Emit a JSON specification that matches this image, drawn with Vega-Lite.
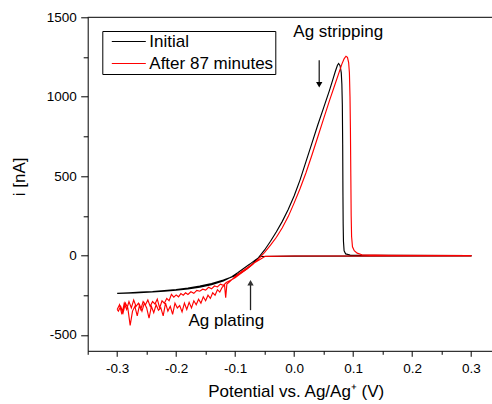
{
  "$schema": "https://vega.github.io/schema/vega-lite/v6.json",
  "width": 404.3,
  "height": 333.5,
  "autosize": {"type": "none"},
  "padding": {"left": 87.7, "top": 17.3, "right": 0, "bottom": 53.2},
  "background": "white",
  "config": {
    "view": {"stroke": null},
    "font": "Liberation Sans",
    "axis": {"grid": false, "domainColor": "black", "tickColor": "black", "labelColor": "black", "titleColor": "black", "labelFontSize": 13.5, "titleFontSize": 17, "titleFontWeight": "normal", "labelFont": "Liberation Sans", "titleFont": "Liberation Sans", "domainWidth": 1, "tickWidth": 1}
  },
  "datasets": {
    "curves": [
      {"s":"Initial","k":1,"v":-0.30,"i":-238},{"s":"Initial","k":2,"v":-0.28,"i":-235},{"s":"Initial","k":3,"v":-0.26,"i":-231},{"s":"Initial","k":4,"v":-0.24,"i":-227},{"s":"Initial","k":5,"v":-0.22,"i":-221},{"s":"Initial","k":6,"v":-0.20,"i":-214},{"s":"Initial","k":7,"v":-0.18,"i":-205},{"s":"Initial","k":8,"v":-0.16,"i":-193},{"s":"Initial","k":9,"v":-0.14,"i":-176},{"s":"Initial","k":10,"v":-0.12,"i":-155},{"s":"Initial","k":11,"v":-0.10,"i":-128},{"s":"Initial","k":12,"v":-0.09,"i":-108},{"s":"Initial","k":13,"v":-0.08,"i":-84},{"s":"Initial","k":14,"v":-0.07,"i":-52},{"s":"Initial","k":15,"v":-0.06,"i":-12},{"s":"Initial","k":16,"v":-0.05,"i":35},{"s":"Initial","k":17,"v":-0.04,"i":90},{"s":"Initial","k":18,"v":-0.03,"i":150},{"s":"Initial","k":19,"v":-0.02,"i":215},{"s":"Initial","k":20,"v":-0.01,"i":290},{"s":"Initial","k":21,"v":0.0,"i":375},{"s":"Initial","k":22,"v":0.01,"i":475},{"s":"Initial","k":23,"v":0.02,"i":590},{"s":"Initial","k":24,"v":0.03,"i":705},{"s":"Initial","k":25,"v":0.04,"i":820},{"s":"Initial","k":26,"v":0.05,"i":930},{"s":"Initial","k":27,"v":0.06,"i":1040},{"s":"Initial","k":28,"v":0.065,"i":1100},{"s":"Initial","k":29,"v":0.07,"i":1160},{"s":"Initial","k":30,"v":0.0735,"i":1198},{"s":"Initial","k":31,"v":0.0755,"i":1209},{"s":"Initial","k":32,"v":0.078,"i":1195},{"s":"Initial","k":33,"v":0.080,"i":1150},{"s":"Initial","k":34,"v":0.081,"i":1080},{"s":"Initial","k":35,"v":0.0818,"i":950},{"s":"Initial","k":36,"v":0.0824,"i":700},{"s":"Initial","k":37,"v":0.0828,"i":400},{"s":"Initial","k":38,"v":0.0832,"i":200},{"s":"Initial","k":39,"v":0.0837,"i":90},{"s":"Initial","k":40,"v":0.0848,"i":30},{"s":"Initial","k":41,"v":0.0875,"i":10},{"s":"Initial","k":42,"v":0.095,"i":3},{"s":"Initial","k":43,"v":0.15,"i":1},{"s":"Initial","k":44,"v":0.30,"i":0},{"s":"Initial","k":45,"v":0.30,"i":-2},{"s":"Initial","k":46,"v":0.0,"i":-4},{"s":"Initial","k":47,"v":-0.057,"i":-6},{"s":"Initial","k":48,"v":-0.065,"i":-26},{"s":"Initial","k":49,"v":-0.075,"i":-54},{"s":"Initial","k":50,"v":-0.085,"i":-80},{"s":"Initial","k":51,"v":-0.095,"i":-107},{"s":"Initial","k":52,"v":-0.105,"i":-132},{"s":"Initial","k":53,"v":-0.12,"i":-160},{"s":"Initial","k":54,"v":-0.14,"i":-183},{"s":"Initial","k":55,"v":-0.16,"i":-199},{"s":"Initial","k":56,"v":-0.18,"i":-210},{"s":"Initial","k":57,"v":-0.20,"i":-218},{"s":"Initial","k":58,"v":-0.22,"i":-225},{"s":"Initial","k":59,"v":-0.24,"i":-230},{"s":"Initial","k":60,"v":-0.27,"i":-235},{"s":"Initial","k":61,"v":-0.30,"i":-239},
      {"s":"After 87 minutes","k":1,"v":-0.300,"i":-340},{"s":"After 87 minutes","k":2,"v":-0.296,"i":-310},{"s":"After 87 minutes","k":3,"v":-0.292,"i":-370},{"s":"After 87 minutes","k":4,"v":-0.288,"i":-300},{"s":"After 87 minutes","k":5,"v":-0.284,"i":-340},{"s":"After 87 minutes","k":6,"v":-0.280,"i":-290},{"s":"After 87 minutes","k":7,"v":-0.276,"i":-330},{"s":"After 87 minutes","k":8,"v":-0.272,"i":-280},{"s":"After 87 minutes","k":9,"v":-0.268,"i":-320},{"s":"After 87 minutes","k":10,"v":-0.264,"i":-300},{"s":"After 87 minutes","k":11,"v":-0.260,"i":-340},{"s":"After 87 minutes","k":12,"v":-0.256,"i":-290},{"s":"After 87 minutes","k":13,"v":-0.252,"i":-310},{"s":"After 87 minutes","k":14,"v":-0.248,"i":-280},{"s":"After 87 minutes","k":15,"v":-0.244,"i":-320},{"s":"After 87 minutes","k":16,"v":-0.240,"i":-290},{"s":"After 87 minutes","k":17,"v":-0.236,"i":-305},{"s":"After 87 minutes","k":18,"v":-0.232,"i":-275},{"s":"After 87 minutes","k":19,"v":-0.228,"i":-330},{"s":"After 87 minutes","k":20,"v":-0.224,"i":-285},{"s":"After 87 minutes","k":21,"v":-0.220,"i":-300},{"s":"After 87 minutes","k":22,"v":-0.216,"i":-270},{"s":"After 87 minutes","k":23,"v":-0.212,"i":-285},{"s":"After 87 minutes","k":24,"v":-0.208,"i":-245},{"s":"After 87 minutes","k":25,"v":-0.204,"i":-262},{"s":"After 87 minutes","k":26,"v":-0.200,"i":-248},{"s":"After 87 minutes","k":27,"v":-0.196,"i":-260},{"s":"After 87 minutes","k":28,"v":-0.192,"i":-240},{"s":"After 87 minutes","k":29,"v":-0.188,"i":-250},{"s":"After 87 minutes","k":30,"v":-0.184,"i":-235},{"s":"After 87 minutes","k":31,"v":-0.180,"i":-245},{"s":"After 87 minutes","k":32,"v":-0.175,"i":-228},{"s":"After 87 minutes","k":33,"v":-0.170,"i":-238},{"s":"After 87 minutes","k":34,"v":-0.165,"i":-220},{"s":"After 87 minutes","k":35,"v":-0.160,"i":-225},{"s":"After 87 minutes","k":36,"v":-0.155,"i":-212},{"s":"After 87 minutes","k":37,"v":-0.150,"i":-218},{"s":"After 87 minutes","k":38,"v":-0.145,"i":-200},{"s":"After 87 minutes","k":39,"v":-0.140,"i":-210},{"s":"After 87 minutes","k":40,"v":-0.135,"i":-192},{"s":"After 87 minutes","k":41,"v":-0.130,"i":-198},{"s":"After 87 minutes","k":42,"v":-0.125,"i":-180},{"s":"After 87 minutes","k":43,"v":-0.120,"i":-188},{"s":"After 87 minutes","k":44,"v":-0.115,"i":-170},{"s":"After 87 minutes","k":45,"v":-0.110,"i":-160},{"s":"After 87 minutes","k":46,"v":-0.100,"i":-140},{"s":"After 87 minutes","k":47,"v":-0.090,"i":-112},{"s":"After 87 minutes","k":48,"v":-0.080,"i":-85},{"s":"After 87 minutes","k":49,"v":-0.070,"i":-55},{"s":"After 87 minutes","k":50,"v":-0.060,"i":-20},{"s":"After 87 minutes","k":51,"v":-0.050,"i":20},{"s":"After 87 minutes","k":52,"v":-0.040,"i":65},{"s":"After 87 minutes","k":53,"v":-0.030,"i":115},{"s":"After 87 minutes","k":54,"v":-0.020,"i":175},{"s":"After 87 minutes","k":55,"v":-0.010,"i":245},{"s":"After 87 minutes","k":56,"v":0.000,"i":330},{"s":"After 87 minutes","k":57,"v":0.010,"i":420},{"s":"After 87 minutes","k":58,"v":0.020,"i":520},{"s":"After 87 minutes","k":59,"v":0.030,"i":630},{"s":"After 87 minutes","k":60,"v":0.040,"i":745},{"s":"After 87 minutes","k":61,"v":0.050,"i":860},{"s":"After 87 minutes","k":62,"v":0.060,"i":975},{"s":"After 87 minutes","k":63,"v":0.070,"i":1085},{"s":"After 87 minutes","k":64,"v":0.076,"i":1150},{"s":"After 87 minutes","k":65,"v":0.081,"i":1205},{"s":"After 87 minutes","k":66,"v":0.085,"i":1240},{"s":"After 87 minutes","k":67,"v":0.088,"i":1255},{"s":"After 87 minutes","k":68,"v":0.0905,"i":1248},{"s":"After 87 minutes","k":69,"v":0.0925,"i":1215},{"s":"After 87 minutes","k":70,"v":0.0938,"i":1150},{"s":"After 87 minutes","k":71,"v":0.0948,"i":1000},{"s":"After 87 minutes","k":72,"v":0.0955,"i":800},{"s":"After 87 minutes","k":73,"v":0.0962,"i":500},{"s":"After 87 minutes","k":74,"v":0.0968,"i":250},{"s":"After 87 minutes","k":75,"v":0.0975,"i":120},{"s":"After 87 minutes","k":76,"v":0.099,"i":55},{"s":"After 87 minutes","k":77,"v":0.102,"i":30},{"s":"After 87 minutes","k":78,"v":0.107,"i":15},{"s":"After 87 minutes","k":79,"v":0.115,"i":5},{"s":"After 87 minutes","k":80,"v":0.160,"i":1},{"s":"After 87 minutes","k":81,"v":0.300,"i":0},{"s":"After 87 minutes","k":82,"v":0.300,"i":-2},{"s":"After 87 minutes","k":83,"v":0.000,"i":-3},{"s":"After 87 minutes","k":84,"v":-0.049,"i":-5},{"s":"After 87 minutes","k":85,"v":-0.060,"i":-30},{"s":"After 87 minutes","k":86,"v":-0.070,"i":-52},{"s":"After 87 minutes","k":87,"v":-0.080,"i":-78},{"s":"After 87 minutes","k":88,"v":-0.090,"i":-104},{"s":"After 87 minutes","k":89,"v":-0.100,"i":-132},{"s":"After 87 minutes","k":90,"v":-0.105,"i":-150},{"s":"After 87 minutes","k":91,"v":-0.110,"i":-168},{"s":"After 87 minutes","k":92,"v":-0.114,"i":-180},{"s":"After 87 minutes","k":93,"v":-0.116,"i":-265},{"s":"After 87 minutes","k":94,"v":-0.118,"i":-185},{"s":"After 87 minutes","k":95,"v":-0.122,"i":-200},{"s":"After 87 minutes","k":96,"v":-0.126,"i":-230},{"s":"After 87 minutes","k":97,"v":-0.130,"i":-215},{"s":"After 87 minutes","k":98,"v":-0.134,"i":-250},{"s":"After 87 minutes","k":99,"v":-0.138,"i":-235},{"s":"After 87 minutes","k":100,"v":-0.142,"i":-270},{"s":"After 87 minutes","k":101,"v":-0.146,"i":-250},{"s":"After 87 minutes","k":102,"v":-0.150,"i":-285},{"s":"After 87 minutes","k":103,"v":-0.154,"i":-260},{"s":"After 87 minutes","k":104,"v":-0.158,"i":-300},{"s":"After 87 minutes","k":105,"v":-0.162,"i":-275},{"s":"After 87 minutes","k":106,"v":-0.166,"i":-310},{"s":"After 87 minutes","k":107,"v":-0.170,"i":-285},{"s":"After 87 minutes","k":108,"v":-0.174,"i":-330},{"s":"After 87 minutes","k":109,"v":-0.178,"i":-295},{"s":"After 87 minutes","k":110,"v":-0.182,"i":-340},{"s":"After 87 minutes","k":111,"v":-0.186,"i":-300},{"s":"After 87 minutes","k":112,"v":-0.190,"i":-355},{"s":"After 87 minutes","k":113,"v":-0.194,"i":-315},{"s":"After 87 minutes","k":114,"v":-0.198,"i":-330},{"s":"After 87 minutes","k":115,"v":-0.202,"i":-300},{"s":"After 87 minutes","k":116,"v":-0.206,"i":-370},{"s":"After 87 minutes","k":117,"v":-0.210,"i":-320},{"s":"After 87 minutes","k":118,"v":-0.214,"i":-350},{"s":"After 87 minutes","k":119,"v":-0.218,"i":-300},{"s":"After 87 minutes","k":120,"v":-0.222,"i":-380},{"s":"After 87 minutes","k":121,"v":-0.226,"i":-330},{"s":"After 87 minutes","k":122,"v":-0.230,"i":-345},{"s":"After 87 minutes","k":123,"v":-0.234,"i":-310},{"s":"After 87 minutes","k":124,"v":-0.238,"i":-360},{"s":"After 87 minutes","k":125,"v":-0.242,"i":-320},{"s":"After 87 minutes","k":126,"v":-0.246,"i":-395},{"s":"After 87 minutes","k":127,"v":-0.250,"i":-330},{"s":"After 87 minutes","k":128,"v":-0.254,"i":-300},{"s":"After 87 minutes","k":129,"v":-0.258,"i":-350},{"s":"After 87 minutes","k":130,"v":-0.262,"i":-310},{"s":"After 87 minutes","k":131,"v":-0.266,"i":-380},{"s":"After 87 minutes","k":132,"v":-0.270,"i":-320},{"s":"After 87 minutes","k":133,"v":-0.274,"i":-350},{"s":"After 87 minutes","k":134,"v":-0.278,"i":-440},{"s":"After 87 minutes","k":135,"v":-0.282,"i":-330},{"s":"After 87 minutes","k":136,"v":-0.286,"i":-300},{"s":"After 87 minutes","k":137,"v":-0.290,"i":-360},{"s":"After 87 minutes","k":138,"v":-0.294,"i":-320},{"s":"After 87 minutes","k":139,"v":-0.298,"i":-350},{"s":"After 87 minutes","k":140,"v":-0.300,"i":-340}
    ],
    "arrows": [
      {"a":"stripping","v":0.0426,"i":1230,"i2":1075},
      {"a":"plating","v":-0.0739,"i":-344,"i2":-172}
    ],
    "labels": [
      {"t":"Ag stripping","v":0.0748,"i":1377},
      {"t":"Ag plating","v":-0.1149,"i":-445}
    ],
    "frame": [{"v":-0.35,"v2":0.3356,"i":1500}]
  },
  "encoding": {
    "x": {
      "field": "v", "type": "quantitative",
      "scale": {"domain": [-0.35, 0.3356], "nice": false, "zero": false},
      "axis": {
        "values": [-0.35,-0.3,-0.25,-0.2,-0.15,-0.1,-0.05,0,0.05,0.1,0.15,0.2,0.25,0.3],
        "labelExpr": "abs(datum.value*10 - round(datum.value*10)) < 0.01 ? ((datum.value < -0.001 ? '-' : '') + format(abs(datum.value), '.1f')) : ''",
        "tickSize": {"condition": {"test": "abs(datum.value*10 - round(datum.value*10)) < 0.01", "value": 5.5}, "value": 3.5},
        "labelPadding": 5,
        "labelFlush": false,
        "labelOverlap": false,
        "title": "Potential vs. Ag/Ag⁺ (V)",
        "titleX": 208, "titleY": 46, "titleBaseline": "alphabetic", "titleAlign": "center"
      }
    },
    "y": {
      "field": "i", "type": "quantitative",
      "scale": {"domain": [-600, 1500], "nice": false, "zero": false},
      "axis": {
        "values": [-500,-250,0,250,500,750,1000,1250,1500],
        "labelExpr": "datum.value % 500 == 0 ? (datum.value < 0 ? '-' + (-datum.value) : '' + datum.value) : ''",
        "tickSize": {"condition": {"test": "datum.value % 500 == 0", "value": 7}, "value": 4.5},
        "labelPadding": 4.5,
        "labelOverlap": false,
        "title": "i [nA]",
        "titleX": -62.7, "titleY": 159, "titleBaseline": "alphabetic", "titleAngle": -90, "titleAlign": "center"
      }
    }
  },
  "layer": [
    {
      "data": {"name": "curves"},
      "mark": {"type": "line", "strokeWidth": 1.15},
      "encoding": {
        "order": {"field": "k"},
        "color": {
          "field": "s", "type": "nominal",
          "scale": {"domain": ["Initial", "After 87 minutes"], "range": ["#000000", "#ff0000"]},
          "legend": {
            "orient": "none", "legendX": 14.6, "legendY": 13.7, "title": null,
            "strokeColor": "black", "padding": 2,
            "symbolType": "M-0.5,0H16.5", "symbolSize": 16, "symbolStrokeWidth": 1.2,
            "labelFontSize": 17, "labelFont": "Liberation Sans", "labelColor": "black",
            "labelOffset": 28, "rowPadding": 4
          }
        }
      }
    },
    {
      "data": {"name": "arrows"},
      "mark": {"type": "rule", "strokeWidth": 1.3},
      "encoding": {
        "y2": {"field": "i2"},
        "color": {"value": "#222222"}
      }
    },
    {
      "data": {"name": "arrows"},
      "transform": [{"filter": "datum.a == 'stripping'"}],
      "mark": {"type": "point", "shape": "triangle-down", "filled": true, "size": 40, "color": "black", "opacity": 1},
      "encoding": {"y": {"field": "i2"}}
    },
    {
      "data": {"name": "arrows"},
      "transform": [{"filter": "datum.a == 'plating'"}],
      "mark": {"type": "point", "shape": "triangle-up", "filled": true, "size": 40, "color": "#333333", "opacity": 1},
      "encoding": {"y": {"field": "i2"}}
    },
    {
      "data": {"name": "labels"},
      "mark": {"type": "text", "font": "Liberation Sans", "fontSize": 17, "align": "center", "baseline": "alphabetic", "color": "black"},
      "encoding": {"text": {"field": "t"}}
    },
    {
      "data": {"name": "frame"},
      "mark": {"type": "rule", "color": "black", "strokeWidth": 1},
      "encoding": {"x2": {"field": "v2"}}
    }
  ]
}
